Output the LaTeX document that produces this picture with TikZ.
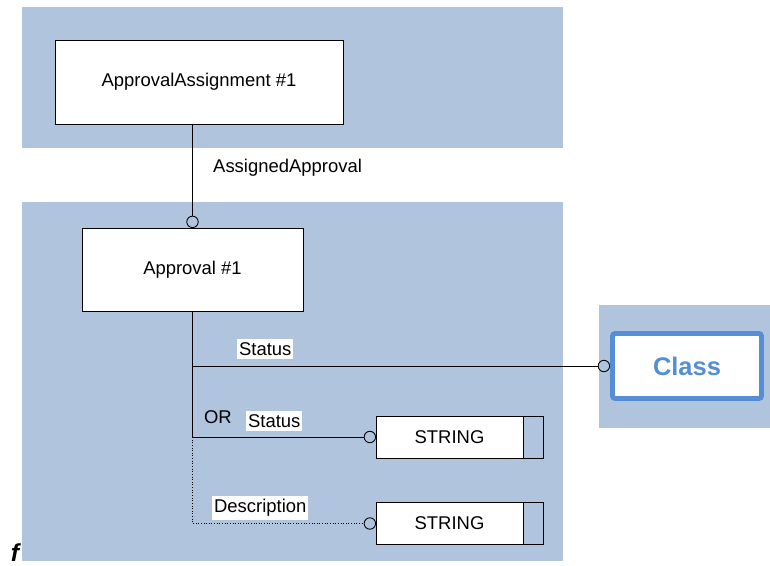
\documentclass[tikz,border=0pt]{standalone}
\usepackage{fontspec}
\setmainfont{Liberation Sans}
\usetikzlibrary{positioning,arrows.meta}
\definecolor{panelblue}{RGB}{176,196,222}
\definecolor{classblue}{RGB}{85,142,213}

\begin{document}
\begin{tikzpicture}[x=0.02cm,y=-0.02cm,font=\fontsize{10.5}{12}\selectfont]
\tikzset{panel/.style={fill=panelblue,draw=none},
            entity/.style={draw,fill=white,line width=0.5pt,inner sep=0pt,outer sep=0pt},
            attr/.style={fill=white,inner xsep=1pt,inner ysep=2pt},
            link/.style={line width=0.5pt,-{Circle[open,length=7pt,line width=0.5pt]}}}
\useasboundingbox (0,0) rectangle (770,565);
% panels
\fill[panelblue] (22,7) rectangle (563,148);
\fill[panelblue] (22,202) rectangle (563,561);
\fill[panelblue] (599,305) rectangle (770,428);
\node[entity,minimum width=5.76cm,minimum height=1.68cm] (assign) at (199,82) {ApprovalAssignment \#1};
\node[entity,minimum width=4.42cm,minimum height=1.66cm] (approval) at (192.5,269.5) {Approval \#1};
\node[entity,draw=classblue,line width=2.8pt,outer sep=1.4pt,rounded corners=1.5pt,minimum width=2.98cm,minimum height=1.3cm,
      text=classblue,font=\fontsize{14.5}{16}\selectfont\bfseries] (class) at (687,366) {Class};
\node[entity,minimum width=2.94cm,minimum height=0.84cm] (string1) at (449.5,437) {STRING};
\node[entity,minimum width=2.94cm,minimum height=0.84cm] (string2) at (449.5,523.5) {STRING};
\draw[line width=0.5pt] (string1.north east) rectangle ([xshift=0.4cm]string1.south east);
\draw[line width=0.5pt] (string2.north east) rectangle ([xshift=0.4cm]string2.south east);
% connectors
\draw[link] (assign.south -| approval.north) -- (approval.north);
\node[anchor=west] (assigned) at (207,168) {AssignedApproval};
\draw[line width=0.5pt] (approval.south) -- (approval.south |- string1.west);
\draw[link] (approval.south |- class.west) -- (class.west);
\draw[link] (approval.south |- string1.west) -- (string1.west);
\draw[link,densely dotted] (approval.south |- string1.west) -- (approval.south |- string2.west) -- (string2.west);
\node[attr,anchor=west] (status1) at (237,349) {Status};
\node[anchor=west,inner sep=1pt] (or) at (202,417) {OR};
\node[attr,anchor=west] (status2) at (246,421) {Status};
\node[attr,anchor=west] (descr) at (212,508) {Description};
\node[font=\fontsize{14}{16}\selectfont\bfseries\itshape] (fmark) at (15,553) {f};
\end{tikzpicture}
\end{document}
